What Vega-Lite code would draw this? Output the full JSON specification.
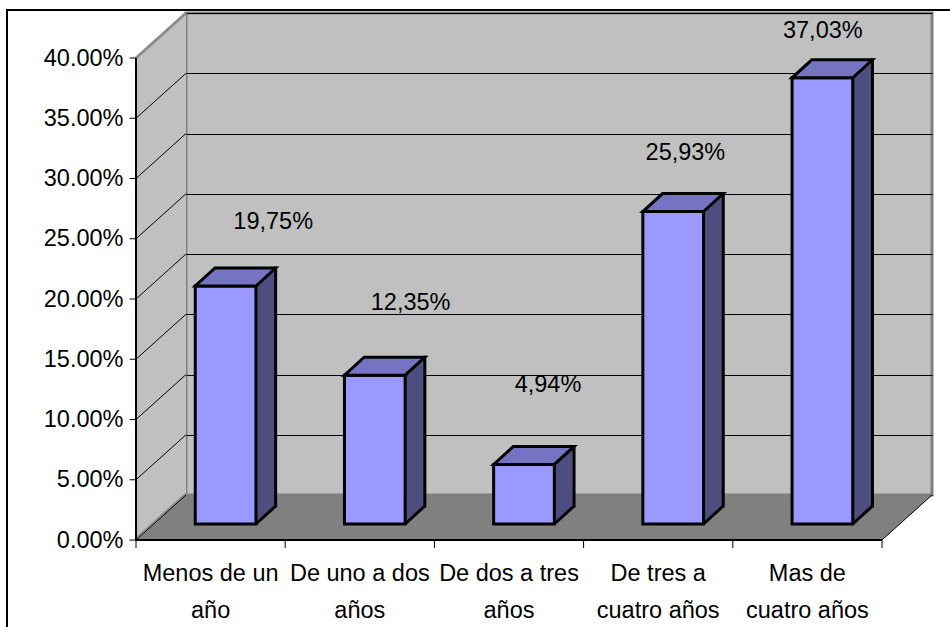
{
  "$schema": "https://vega.github.io/schema/vega-lite/v6.json",
  "width": 746,
  "height": 482,
  "autosize": {"type": "none"},
  "padding": {"left": 186, "top": 13, "right": 18, "bottom": 132},
  "background": "white",
  "data": {
    "values": [
      {"periodo": "Menos de un año", "porcentaje": 0.1975},
      {"periodo": "De uno a dos años", "porcentaje": 0.1235},
      {"periodo": "De dos a tres años", "porcentaje": 0.0494},
      {"periodo": "De tres a cuatro años", "porcentaje": 0.2593},
      {"periodo": "Mas de cuatro años", "porcentaje": 0.3703}
    ]
  },
  "layer": [
    {
      "layer": [
        {
          "data": {"values": [{}]},
          "mark": {"type": "point", "shape": "M -253.6 140 L -253.6 -485 L 700 -485", "size": 4, "filled": false, "stroke": "black", "strokeWidth": 2, "opacity": 1},
          "encoding": {
            "x": {
              "datum": "Menos de un año", "type": "nominal", "title": null,
              "scale": {"type": "band", "domain": ["Menos de un año", "De uno a dos años", "De dos a tres años", "De tres a cuatro años", "Mas de cuatro años"], "paddingInner": 0, "paddingOuter": 0},
              "axis": {
                "orient": "bottom", "offset": 45, "ticks": false, "tickSize": 0, "labelOffset": -50,
                "domain": false, "grid": false, "labelAngle": 0,
                "labelPadding": 21, "labelLineHeight": 37, "labelFontSize": 23.5, "labelColor": "black",
                "labelOverlap": false, "labelLimit": 0, "title": null,
                "labelExpr": "datum.value == 'Menos de un año' ? ['Menos de un', 'año'] : datum.value == 'De uno a dos años' ? ['De uno a dos', 'años'] : datum.value == 'De dos a tres años' ? ['De dos a tres', 'años'] : datum.value == 'De tres a cuatro años' ? ['De tres a', 'cuatro años'] : ['Mas de', 'cuatro años']"
              }
            },
            "y": {
              "datum": 0, "type": "quantitative", "title": null,
              "scale": {"domain": [0, 0.4], "nice": false, "zero": true},
              "axis": {
                "orient": "left", "offset": 50, "values": [0, 0.05, 0.1, 0.15, 0.2, 0.25, 0.3, 0.35, 0.4],
                "format": ".2%", "labelExpr": "replace(datum.label, ',', '.')", "labelOffset": 45,
                "labelPadding": 13, "ticks": false, "domain": false, "grid": true, "gridColor": "black",
                "gridWidth": 1, "gridOpacity": 1, "labelFontSize": 23.5, "labelColor": "black", "title": null
              }
            }
          }
        },
        {
          "data": {"values": [{}]},
          "mark": {"type": "point", "shape": "M -74.6 -482 L -74.6 0 L -124.6 45 L -124.6 -437 Z", "size": 4, "filled": true, "fill": "#C0C0C0", "strokeWidth": 0, "opacity": 1},
          "encoding": {
            "x": {"datum": "Menos de un año", "type": "nominal", "title": null},
            "y": {"datum": 0, "type": "quantitative", "title": null}
          }
        },
        {
          "data": {"values": [{}]},
          "mark": {"type": "point", "shape": "M -74.6 0 L 671.4 0 L 621.4 45 L -124.6 45 Z", "size": 4, "filled": true, "fill": "#808080", "strokeWidth": 0, "opacity": 1},
          "encoding": {
            "x": {"datum": "Menos de un año", "type": "nominal", "title": null},
            "y": {"datum": 0, "type": "quantitative", "title": null}
          }
        },
        {
          "data": {"values": [{}]},
          "mark": {"type": "point", "shape": "M -74.6 -482 L -124.6 -437 M -74.6 -1 L -124.6 44", "size": 4, "filled": false, "stroke": "#8C8C8C", "strokeWidth": 3, "opacity": 1},
          "encoding": {
            "x": {"datum": "Menos de un año", "type": "nominal", "title": null},
            "y": {"datum": 0, "type": "quantitative", "title": null}
          }
        },
        {
          "data": {"values": [{}]},
          "mark": {"type": "point", "shape": "M -74.6 0 L -124.6 45 L -131 45 M -74.6 -60.25 L -124.6 -15.25 L -131 -15.25 M -74.6 -120.5 L -124.6 -75.5 L -131 -75.5 M -74.6 -180.75 L -124.6 -135.75 L -131 -135.75 M -74.6 -241 L -124.6 -196 L -131 -196 M -74.6 -301.25 L -124.6 -256.25 L -131 -256.25 M -74.6 -361.5 L -124.6 -316.5 L -131 -316.5 M -74.6 -421.75 L -124.6 -376.75 L -131 -376.75 M -124.6 -437 L -131 -437 M 621.4 45 L 671.4 0 M -124.6 45 L -124.6 53 M 24.6 45 L 24.6 53 M 173.8 45 L 173.8 53 M 323 45 L 323 53 M 472.2 45 L 472.2 53 M 621.4 45 L 621.4 53", "size": 4, "filled": false, "stroke": "black", "strokeWidth": 1, "opacity": 1},
          "encoding": {
            "x": {"datum": "Menos de un año", "type": "nominal", "title": null},
            "y": {"datum": 0, "type": "quantitative", "title": null}
          }
        },
        {
          "data": {"values": [{}]},
          "mark": {"type": "point", "shape": "M -124.6 -437 L -124.6 45 L 621.4 45", "size": 4, "filled": false, "stroke": "black", "strokeWidth": 2, "opacity": 1},
          "encoding": {
            "x": {"datum": "Menos de un año", "type": "nominal", "title": null},
            "y": {"datum": 0, "type": "quantitative", "title": null}
          }
        },
        {
          "mark": {"type": "bar", "width": 19.7, "xOffset": 5.2, "yOffset": 11, "y2Offset": 11, "fill": "#4D4D80", "strokeWidth": 0},
          "encoding": {
            "x": {"field": "periodo", "type": "nominal", "title": null},
            "y": {"field": "porcentaje", "type": "quantitative", "title": null},
            "y2": {"datum": 0}
          }
        },
        {
          "mark": {"type": "point", "shape": "M -4.65 29 L -4.65 11 L 15.05 11 Z", "size": 4, "filled": true, "fill": "#4D4D80", "strokeWidth": 0, "opacity": 1},
          "encoding": {
            "x": {"field": "periodo", "type": "nominal", "title": null},
            "y": {"datum": 0, "type": "quantitative", "title": null}
          }
        },
        {
          "mark": {"type": "bar", "width": 60.7, "xOffset": -35, "yOffset": 29, "y2Offset": 29, "fill": "#9999FF", "stroke": "black", "strokeWidth": 3, "strokeJoin": "miter"},
          "encoding": {
            "x": {"field": "periodo", "type": "nominal", "title": null},
            "y": {"field": "porcentaje", "type": "quantitative", "title": null},
            "y2": {"datum": 0}
          }
        },
        {
          "mark": {"type": "rule", "stroke": "black", "strokeWidth": 3, "xOffset": 15.05, "yOffset": 11, "y2Offset": 11, "strokeCap": "square"},
          "encoding": {
            "x": {"field": "periodo", "type": "nominal", "title": null},
            "y": {"field": "porcentaje", "type": "quantitative", "title": null},
            "y2": {"datum": 0}
          }
        },
        {
          "mark": {"type": "point", "shape": "M -4.65 29 L 15.05 11", "size": 4, "filled": false, "stroke": "black", "strokeWidth": 3, "opacity": 1},
          "encoding": {
            "x": {"field": "periodo", "type": "nominal", "title": null},
            "y": {"datum": 0, "type": "quantitative", "title": null}
          }
        },
        {
          "mark": {"type": "point", "shape": "M -65.35 29 L -4.65 29 L 15.05 11 L -45.65 11 Z", "size": 4, "filled": true, "fill": "#7474C2", "stroke": "black", "strokeWidth": 3, "strokeJoin": "miter", "opacity": 1},
          "encoding": {
            "x": {"field": "periodo", "type": "nominal", "title": null},
            "y": {"field": "porcentaje", "type": "quantitative", "title": null}
          }
        }
      ]
    },
    {
      "mark": {"type": "text", "fontSize": 23.5, "color": "black", "xOffset": -11, "baseline": "middle", "align": "center"},
      "encoding": {
        "x": {"field": "periodo", "type": "nominal", "sort": null, "title": null, "scale": {"type": "band", "paddingInner": 0, "paddingOuter": 0.2146}, "axis": null},
        "y": {"field": "porcentaje", "type": "quantitative", "title": null, "scale": {"domain": [-0.0502, 0.3864], "nice": false, "zero": false}, "axis": null},
        "text": {"field": "porcentaje", "type": "quantitative", "format": ".2%"}
      }
    }
  ],
  "resolve": {"scale": {"x": "independent", "y": "independent"}},
  "config": {
    "font": "Liberation Sans",
    "view": {"fill": "#C0C0C0", "stroke": "#808080", "strokeWidth": 3},
    "locale": {"number": {"decimal": ",", "thousands": ".", "grouping": [3], "currency": ["", "€"]}},
    "axis": {"labelColor": "black", "labelFontSize": 23.5}
  }
}
